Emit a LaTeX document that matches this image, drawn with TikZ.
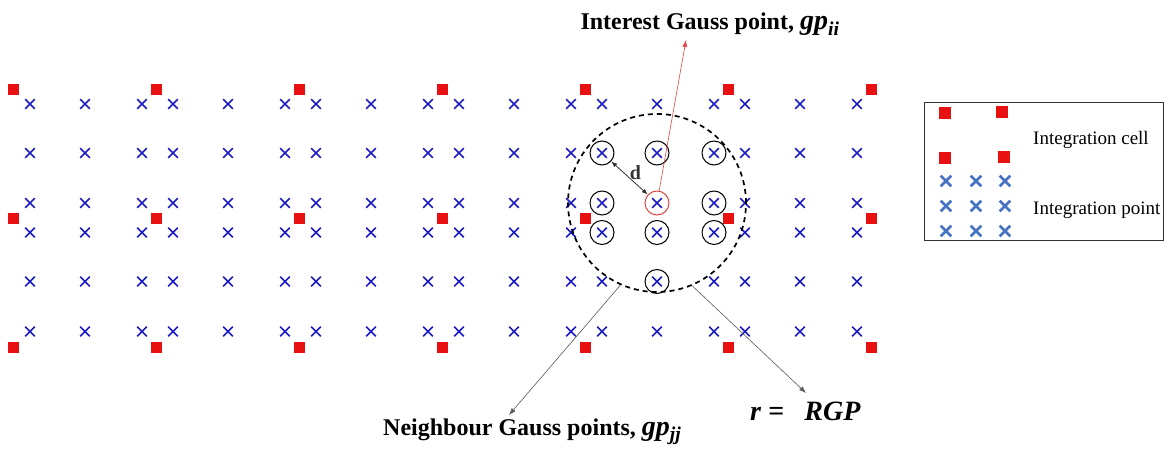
\documentclass[tikz,border=0pt]{standalone}
\usepackage{fontspec}
\setmainfont{Liberation Serif}
\usetikzlibrary{arrows.meta,positioning,shapes.misc}
\definecolor{CellRed}{RGB}{232,16,16}
\definecolor{PointBlue}{RGB}{28,28,196}
\definecolor{LegendBlue}{RGB}{70,114,196}
\definecolor{ArrowRed}{RGB}{222,70,70}
\definecolor{LineGray}{RGB}{90,90,90}

\begin{document}
\begin{tikzpicture}[x=1pt,y=-1pt,
    cell/.style={fill=CellRed, minimum size=11pt, inner sep=0pt},
    gpt/.style={cross out, draw=PointBlue, line width=1.6pt, minimum size=8pt, inner sep=0pt},
    lgpt/.style={cross out, draw=LegendBlue, line width=2.6pt, minimum size=8pt, inner sep=0pt},
    ring/.style={circle, draw, line width=1pt, minimum size=24pt, inner sep=0pt},
    lbl/.style={font=\fontsize{24}{26}\selectfont\bfseries, inner sep=0pt},
    lgd/.style={font=\fontsize{19}{21}\selectfont, anchor=west, inner sep=0pt}]
  \newcommand{\gpsym}[1]{{\fontsize{28}{30}\selectfont\textit{gp}\textsubscript{\textit{#1}}}}
  \useasboundingbox (0,0) rectangle (1169,449);
  \foreach \i in {0,...,5}
    \foreach \j in {0,1}
      \foreach \dx in {17,72,129}
        \foreach \dy in {14,63,113}
          \node[gpt] at ({13+143*\i+\dx},{90+128.5*\j+\dy}) {};
  \foreach \i in {0,...,6}
    \foreach \y in {90,218.5,347}
      \node[cell] at ({13+143*\i},\y) {};
  \node[ring, draw=ArrowRed] (ip) at (657,203) {};
  \foreach \x/\y [count=\k] in {602/153,657/153,714/153,602/203,714/203,602/232.5,657/232.5,714/232.5,657/281.5}
    \node[ring] (nb\k) at (\x,\y) {};
  \node[circle, draw, line width=1.7pt, dash pattern=on 5pt off 4pt, minimum size=178pt, inner sep=0pt] (rgp) at (657,203) {};
  \draw[{Latex[length=6pt,width=4.5pt]}-{Latex[length=6pt,width=4.5pt]}, line width=0.8pt, black!80] (nb1) -- node[midway, xshift=6pt, yshift=5pt, font=\fontsize{20}{22}\selectfont\bfseries] (dlbl) {d} (ip);
  \node[lbl, anchor=base] (iplbl) at (710,30) {Interest Gauss point, \gpsym{ii}};
  \coordinate (iptip) at (686,40);
  \draw[-{Latex[length=7pt,width=5pt]}, ArrowRed, line width=0.6pt] (ip) -- (iptip);
  \node[lbl, anchor=base west] (nblbl) at (383,435) {Neighbour Gauss points, \gpsym{jj}};
  \coordinate (nbtip) at (509,415);
  \draw[-{Latex[length=7pt,width=5pt]}, LineGray, line width=0.6pt] (rgp.-114) -- (nbtip);
  \node[lbl, anchor=base west, font=\fontsize{28}{30}\selectfont\bfseries] (rlbl) at (750,420) {\textit{r} =\;\;\,\textit{RGP}};
  \coordinate (rtip) at (806,393);
  \draw[-{Latex[length=7pt,width=5pt]}, LineGray, line width=0.6pt] (rgp.-67) -- (rtip);
  \node[draw=black!80, line width=0.8pt, minimum width=239pt, minimum height=138pt, inner sep=0pt] (legend) at (1043.5,171) {};
  \foreach \x/\y in {945/113,1002/112,945/158,1004/157}
    \node[cell, minimum size=12pt] at (\x,\y) {};
  \foreach \x in {946,976,1005}
    \foreach \y in {181,206,231}
      \node[lgpt] at (\x,\y) {};
  \node[lgd] (celltxt) at (1033,140) {Integration cell};
  \node[lgd] (pttxt) at (1033,210) {Integration point};
\end{tikzpicture}
\end{document}
